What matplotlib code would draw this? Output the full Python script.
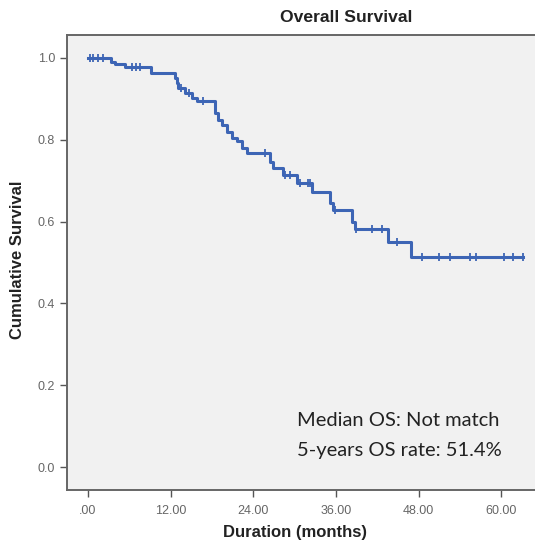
import numpy as np
import matplotlib.pyplot as plt

plt.rcParams['font.family'] = ['Liberation Sans', 'DejaVu Sans']

# Kaplan-Meier steps
event_t = [0.0, 3.4, 3.9, 5.4, 9.2, 12.64, 12.88, 13.12, 14.09, 15.06, 15.79,
           18.45, 18.93, 19.42, 20.15, 20.88, 21.6, 22.33, 23.06,
           26.44, 26.93, 28.38, 30.3, 32.5, 35.16, 35.64, 38.3, 38.8,
           43.6, 46.9]
surv = [1.0, 0.99, 0.985, 0.977, 0.964, 0.950, 0.938, 0.926, 0.914, 0.902, 0.894,
        0.865, 0.848, 0.836, 0.820, 0.804, 0.796, 0.780, 0.767,
        0.746, 0.730, 0.714, 0.694, 0.673, 0.645, 0.628, 0.600, 0.581,
        0.551, 0.514]
censor_t = [0.3, 0.73, 1.45, 2.18, 6.4, 7.0, 7.6, 13.5, 14.7, 16.7, 25.7,
            28.6, 29.3, 30.8, 32.0, 32.3, 35.9, 38.9, 41.2, 42.7, 44.8,
            48.5, 50.9, 52.5, 55.4, 56.4, 60.4, 61.7, 63.1]
last_t = 63.1

xticks = [0, 12, 24, 36, 48, 60]
xticklabels = [".00", "12.00", "24.00", "36.00", "48.00", "60.00"]
yticks = [0.0, 0.2, 0.4, 0.6, 0.8, 1.0]

blue = "#3d65b5"
grey = "#555555"

fig = plt.figure(figsize=(5.35, 5.42), dpi=100)
fig.patch.set_facecolor("white")
ax = fig.add_axes([67/535, 1-490/542, (535-67)/535, (490-35)/542])
ax.set_facecolor("#f1f1f1")

xs = event_t + [last_t]
ys = surv + [surv[-1]]
ax.step(xs, ys, where="post", color=blue, lw=2.2)

# censor marks sit on the curve
idx = np.searchsorted(event_t, censor_t, side="right") - 1
cy = np.array(surv)[idx]
ax.plot(censor_t, cy, ls="none", marker="|", ms=6, mew=1.3, color=blue)

ax.set_xlim(-3.05, 64.9)
ax.set_ylim(-0.056, 1.056)
ax.set_xticks(xticks)
ax.set_xticklabels(xticklabels)
ax.set_yticks(yticks)
ax.set_yticklabels(["%.1f" % v for v in yticks])
ax.tick_params(colors=grey, labelsize=9, length=5, width=1, labelcolor="#666666")
ax.tick_params(axis="x", pad=6)

for s in ["left", "bottom", "top"]:
    ax.spines[s].set_color("#666666")
    ax.spines[s].set_linewidth(1.4)
ax.spines["right"].set_visible(False)

fig.text(346/535, 1-18/542, "Overall Survival", ha="center", va="center",
         fontsize=12.6, fontweight="bold", color="#222222")
fig.text(295/535, 1-533/542, "Duration (months)", ha="center", va="center",
         fontsize=12, fontweight="bold", color="#222222")
fig.text(18/535, 1-260/542, "Cumulative Survival", ha="center", va="center",
         rotation=90, fontsize=12, fontweight="bold", color="#222222")

ax.text(0.492, 0.153, "Median OS: Not match", transform=ax.transAxes,
        fontsize=14.5, family="Lato", color="#222222", va="center")
ax.text(0.492, 0.087, "5-years OS rate: 51.4%", transform=ax.transAxes,
        fontsize=14.5, family="Lato", color="#222222", va="center")

fig.savefig("out.png", dpi=100)
